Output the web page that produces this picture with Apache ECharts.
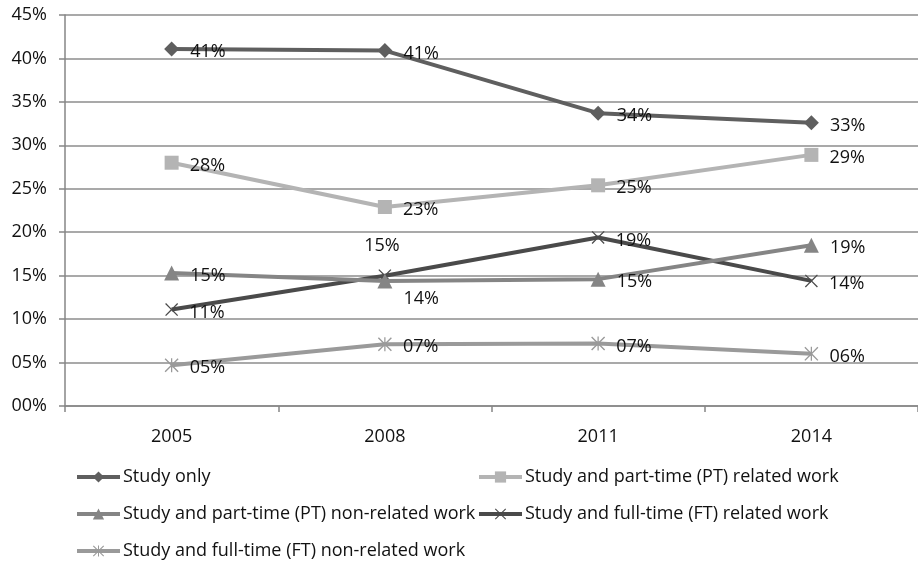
<!DOCTYPE html>
<html>
<head>
<meta charset="utf-8">
<script src="https://cdn.jsdelivr.net/npm/echarts@6/dist/echarts.min.js"></script>
<style>html,body{margin:0;padding:0;background:#fff}#c{width:918px;height:562px}</style>
</head>
<body>
<div id="c"></div>
<script>
const years = ['2005', '2008', '2011', '2014'];
const seriesNames = [
  'Study only',
  'Study and part-time (PT) related work',
  'Study and part-time (PT) non-related work',
  'Study and full-time (FT) related work',
  'Study and full-time (FT) non-related work'
];
const studyOnly = [41.1, 40.9, 33.7, 32.6];
const ptRelated = [28.0, 22.9, 25.4, 28.9];
const ptNonRelated = [15.3, 14.4, 14.6, 18.5];
const ftRelated = [11.1, 15.0, 19.4, 14.4];
const ftNonRelated = [4.7, 7.1, 7.2, 6.0];
const yTicks = [0, 5, 10, 15, 20, 25, 30, 35, 40, 45];

const FONT = '"Open Sans"';
const FS = 18;
const fmt = v => String(Math.round(v)).padStart(2, '0') + '%';
const X_PATH = 'path://M0,1.4L1.4,0L10,8.6L18.6,0L20,1.4L11.4,10L20,18.6L18.6,20L10,11.4L1.4,20L0,18.6L8.6,10Z';
const STAR_PATH = 'path://M0,1.4L1.4,0L10,8.6L18.6,0L20,1.4L11.4,10L20,18.6L18.6,20L10,11.4L1.4,20L0,18.6L8.6,10Z' +
  'M9.1,0L10.9,0L10.9,20L9.1,20Z M9.1,0L10.9,0L10.9,20L9.1,20Z';

const styles = [
  { color: '#5f5f5f', symbol: 'diamond', size: 15 },
  { color: '#b4b4b4', symbol: 'rect', size: 14 },
  { color: '#858585', symbol: 'triangle', size: 15 },
  { color: '#4a4a4a', symbol: X_PATH, size: 13 },
  { color: '#9a9a9a', symbol: STAR_PATH, size: 14 }
];
const values = [studyOnly, ptRelated, ptNonRelated, ftRelated, ftNonRelated];

// per-point label overrides (placement only)
const labelOverrides = {
  '3-1': { position: 'top', distance: 14, offset: [-3, 0] },
  '2-1': { position: 'right', offset: [0, 18] }
};

const series = values.map((vals, si) => ({
  name: seriesNames[si],
  type: 'line',
  data: vals.map((v, i) => {
    const o = labelOverrides[si + '-' + i];
    return o ? { value: v, label: o } : v;
  }),
  symbol: styles[si].symbol,
  symbolSize: styles[si].size,
  showAllSymbol: true,
  lineStyle: { color: styles[si].color, width: 4 },
  itemStyle: { color: styles[si].color },
  label: {
    show: true,
    position: 'right',
    distance: 11,
    offset: [0, 3],
    color: '#111',
    fontFamily: FONT,
    fontSize: FS,
    formatter: p => fmt(p.value)
  },
  emphasis: { disabled: true },
  animation: false,
  z: 10 - si
}));

const legendPos = [
  { left: 75, top: 468 },
  { left: 477, top: 468 },
  { left: 75, top: 505 },
  { left: 477, top: 505 },
  { left: 75, top: 542 }
];
const legends = seriesNames.map((n, i) => ({
  data: [n],
  left: legendPos[i].left,
  top: legendPos[i].top,
  itemWidth: 43,
  itemHeight: 14,
  itemGap: 0,
  padding: 0,
  selectedMode: false,
  lineStyle: { width: 4 },
  textStyle: { fontFamily: FONT, fontSize: FS, color: '#111', padding: [0, 0, 0, -2] }
}));

const chart = echarts.init(document.getElementById('c'), null, { renderer: 'canvas' });
chart.setOption({
  animation: false,
  backgroundColor: '#fff',
  grid: { left: 65, right: -7, top: 15, bottom: 156, containLabel: false },
  legend: legends,
  xAxis: {
    type: 'category',
    data: years,
    boundaryGap: true,
    axisLine: { lineStyle: { color: '#868686', width: 1.5 } },
    axisTick: { show: true, length: 6, lineStyle: { color: '#868686', width: 1.5 } },
    axisLabel: { color: '#111', fontFamily: FONT, fontSize: FS, margin: 22 },
    splitLine: { show: false }
  },
  yAxis: {
    type: 'value',
    min: yTicks[0],
    max: yTicks[yTicks.length - 1],
    interval: 5,
    axisLine: { show: true, lineStyle: { color: '#868686', width: 1.5 } },
    axisTick: { show: true, length: 6, lineStyle: { color: '#868686', width: 1.5 } },
    axisLabel: { color: '#111', fontFamily: FONT, fontSize: FS, margin: 18, formatter: v => fmt(v) },
    splitLine: { show: true, lineStyle: { color: '#8c8c8c', width: 1.5 } }
  },
  series: series
});
</script>
</body>
</html>
